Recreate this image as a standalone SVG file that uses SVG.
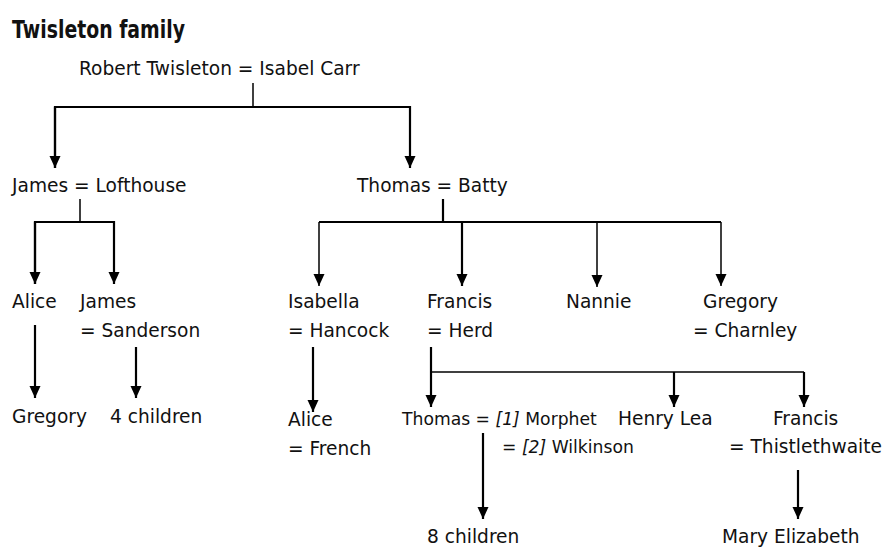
<svg xmlns="http://www.w3.org/2000/svg" width="887" height="550" viewBox="0 0 887 550">
<defs>
<style>
.t{font-family:"DejaVu Sans",Verdana,sans-serif;font-size:18.6px;fill:#111}
.s{font-size:17.2px}
.i{font-style:italic}
.title{font-family:"DejaVu Sans",sans-serif;font-weight:bold;font-size:24px;fill:#111}
.c{fill:none;stroke:#000;stroke-width:2.2}
.th{stroke-width:1.5}
</style>
<marker id="a" markerUnits="userSpaceOnUse" markerWidth="12" markerHeight="12" viewBox="0 0 12 12" refX="12" refY="6" orient="auto">
<path d="M0,0.5 L12,6 L0,11.5 z" fill="#000"/>
</marker>
</defs>
<rect width="887" height="550" fill="#fff"/>
<text class="title" x="12" y="38" textLength="173" lengthAdjust="spacingAndGlyphs">Twisleton family</text>
<g id="connectors">
<path class="c th" d="M253,83 V107"/>
<path class="c" d="M55,168 V107 H410 V168" marker-end="url(#a)"/>
<path class="c" d="M55,107 V168" marker-end="url(#a)"/>
<path class="c th" d="M80,199 V222"/>
<path class="c" d="M35,284 V222 H114 V284" marker-end="url(#a)"/>
<path class="c" d="M35,222 V284" marker-end="url(#a)"/>
<path class="c" d="M35,325 V398" marker-end="url(#a)"/>
<path class="c" d="M136,347 V398" marker-end="url(#a)"/>
<path class="c" d="M443,199 V222"/>
<path class="c" d="M319,222 H721"/>
<path class="c th" d="M319,222 V286" marker-end="url(#a)"/>
<path class="c" d="M462,222 V286" marker-end="url(#a)"/>
<path class="c th" d="M597,222 V287" marker-end="url(#a)"/>
<path class="c th" d="M721,222 V286" marker-end="url(#a)"/>
<path class="c" d="M313,347 V412" marker-end="url(#a)"/>
<path class="c" d="M431,347 V407" marker-end="url(#a)"/>
<path class="c th" d="M431,372 H804"/>
<path class="c" d="M674,372 V407" marker-end="url(#a)"/>
<path class="c" d="M804,372 V407" marker-end="url(#a)"/>
<path class="c" d="M483,433 V519" marker-end="url(#a)"/>
<path class="c" d="M798,470 V519" marker-end="url(#a)"/>
</g>
<g id="n-robert"><text class="t" x="79" y="75">Robert Twisleton = Isabel Carr</text></g>
<g id="n-james"><text class="t" x="12" y="192">James = Lofthouse</text></g>
<g id="n-thomas"><text class="t" x="357" y="192">Thomas = Batty</text></g>
<g id="n-alice"><text class="t" x="12" y="308">Alice</text></g>
<g id="n-james2"><text class="t" x="80" y="308">James</text><text class="t" x="80" y="337">= Sanderson</text></g>
<g id="n-gregory1"><text class="t" x="12" y="423">Gregory</text></g>
<g id="n-4children"><text class="t" x="110" y="423">4 children</text></g>
<g id="n-isabella"><text class="t" x="288" y="308">Isabella</text><text class="t" x="288" y="337">= Hancock</text></g>
<g id="n-francis"><text class="t" x="427" y="308">Francis</text><text class="t" x="427" y="337">= Herd</text></g>
<g id="n-nannie"><text class="t" x="566" y="308">Nannie</text></g>
<g id="n-gregory2"><text class="t" x="703" y="308">Gregory</text><text class="t" x="693" y="337">= Charnley</text></g>
<g id="n-alice2"><text class="t" x="288" y="426">Alice</text><text class="t" x="288" y="455">= French</text></g>
<g id="n-thomas2"><text class="t s" x="402" y="425">Thomas = <tspan class="i">[1]</tspan> Morphet</text><text class="t s" x="502" y="453">= <tspan class="i">[2]</tspan> Wilkinson</text></g>
<g id="n-henry"><text class="t" x="618" y="425">Henry Lea</text></g>
<g id="n-francis2"><text class="t" x="773" y="425">Francis</text><text class="t" x="729" y="453">= Thistlethwaite</text></g>
<g id="n-8children"><text class="t" x="427" y="543">8 children</text></g>
<g id="n-mary"><text class="t" x="722" y="543">Mary Elizabeth</text></g>
</svg>
